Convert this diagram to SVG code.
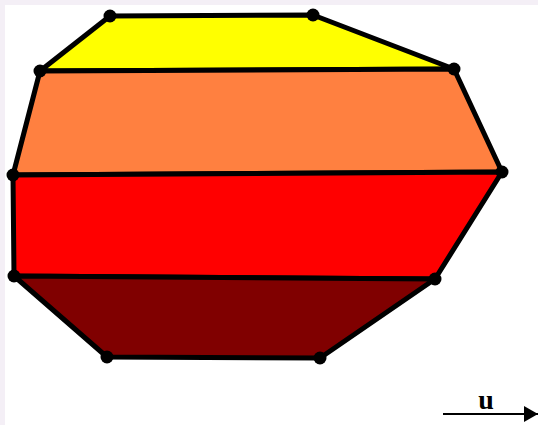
<svg xmlns="http://www.w3.org/2000/svg" width="538" height="425" viewBox="0 0 538 425">
<style>
.band{stroke:#000;stroke-width:5;stroke-linejoin:round}
.v{fill:#000}
.lbl{font-family:"Liberation Serif",serif;font-weight:bold;font-size:28px;fill:#000}
</style>
<defs>
<marker id="ah" viewBox="0 0 14 16" refX="14" refY="8" markerWidth="14" markerHeight="16" markerUnits="userSpaceOnUse" orient="auto">
<path d="M0,0 L14,8 L0,16 Z" fill="#000"/>
</marker>
</defs>
<rect x="0" y="0" width="538" height="425" fill="#f4eff6"/>
<rect x="5" y="5" width="533" height="420" fill="#fff"/>
<g id="yellow"><polygon class="band" fill="#ffff00" points="110,16 313,15 454,69 40,71"/></g>
<g id="orange"><polygon class="band" fill="#ff8040" points="40,71 454,69 502,172 13,175"/></g>
<g id="red"><polygon class="band" fill="#ff0000" points="13,175 502,172 435,279 14,276"/></g>
<g id="darkred"><polygon class="band" fill="#800000" points="14,276 435,279 320,358 107,357"/></g>
<g id="vertices">
<circle class="v" cx="110" cy="16" r="6.5"/>
<circle class="v" cx="313" cy="15" r="6.5"/>
<circle class="v" cx="40" cy="71" r="6.5"/>
<circle class="v" cx="454" cy="69" r="6.5"/>
<circle class="v" cx="13" cy="175" r="6.5"/>
<circle class="v" cx="502" cy="172" r="6.5"/>
<circle class="v" cx="14" cy="276" r="6.5"/>
<circle class="v" cx="435" cy="279" r="6.5"/>
<circle class="v" cx="107" cy="357" r="6.5"/>
<circle class="v" cx="320" cy="358" r="6.5"/>
</g>
<g id="connectors">
<line x1="443" y1="414" x2="538" y2="414" stroke="#000" stroke-width="2" marker-end="url(#ah)"/>
</g>
<text class="lbl" x="486" y="409" text-anchor="middle">u</text>
</svg>
